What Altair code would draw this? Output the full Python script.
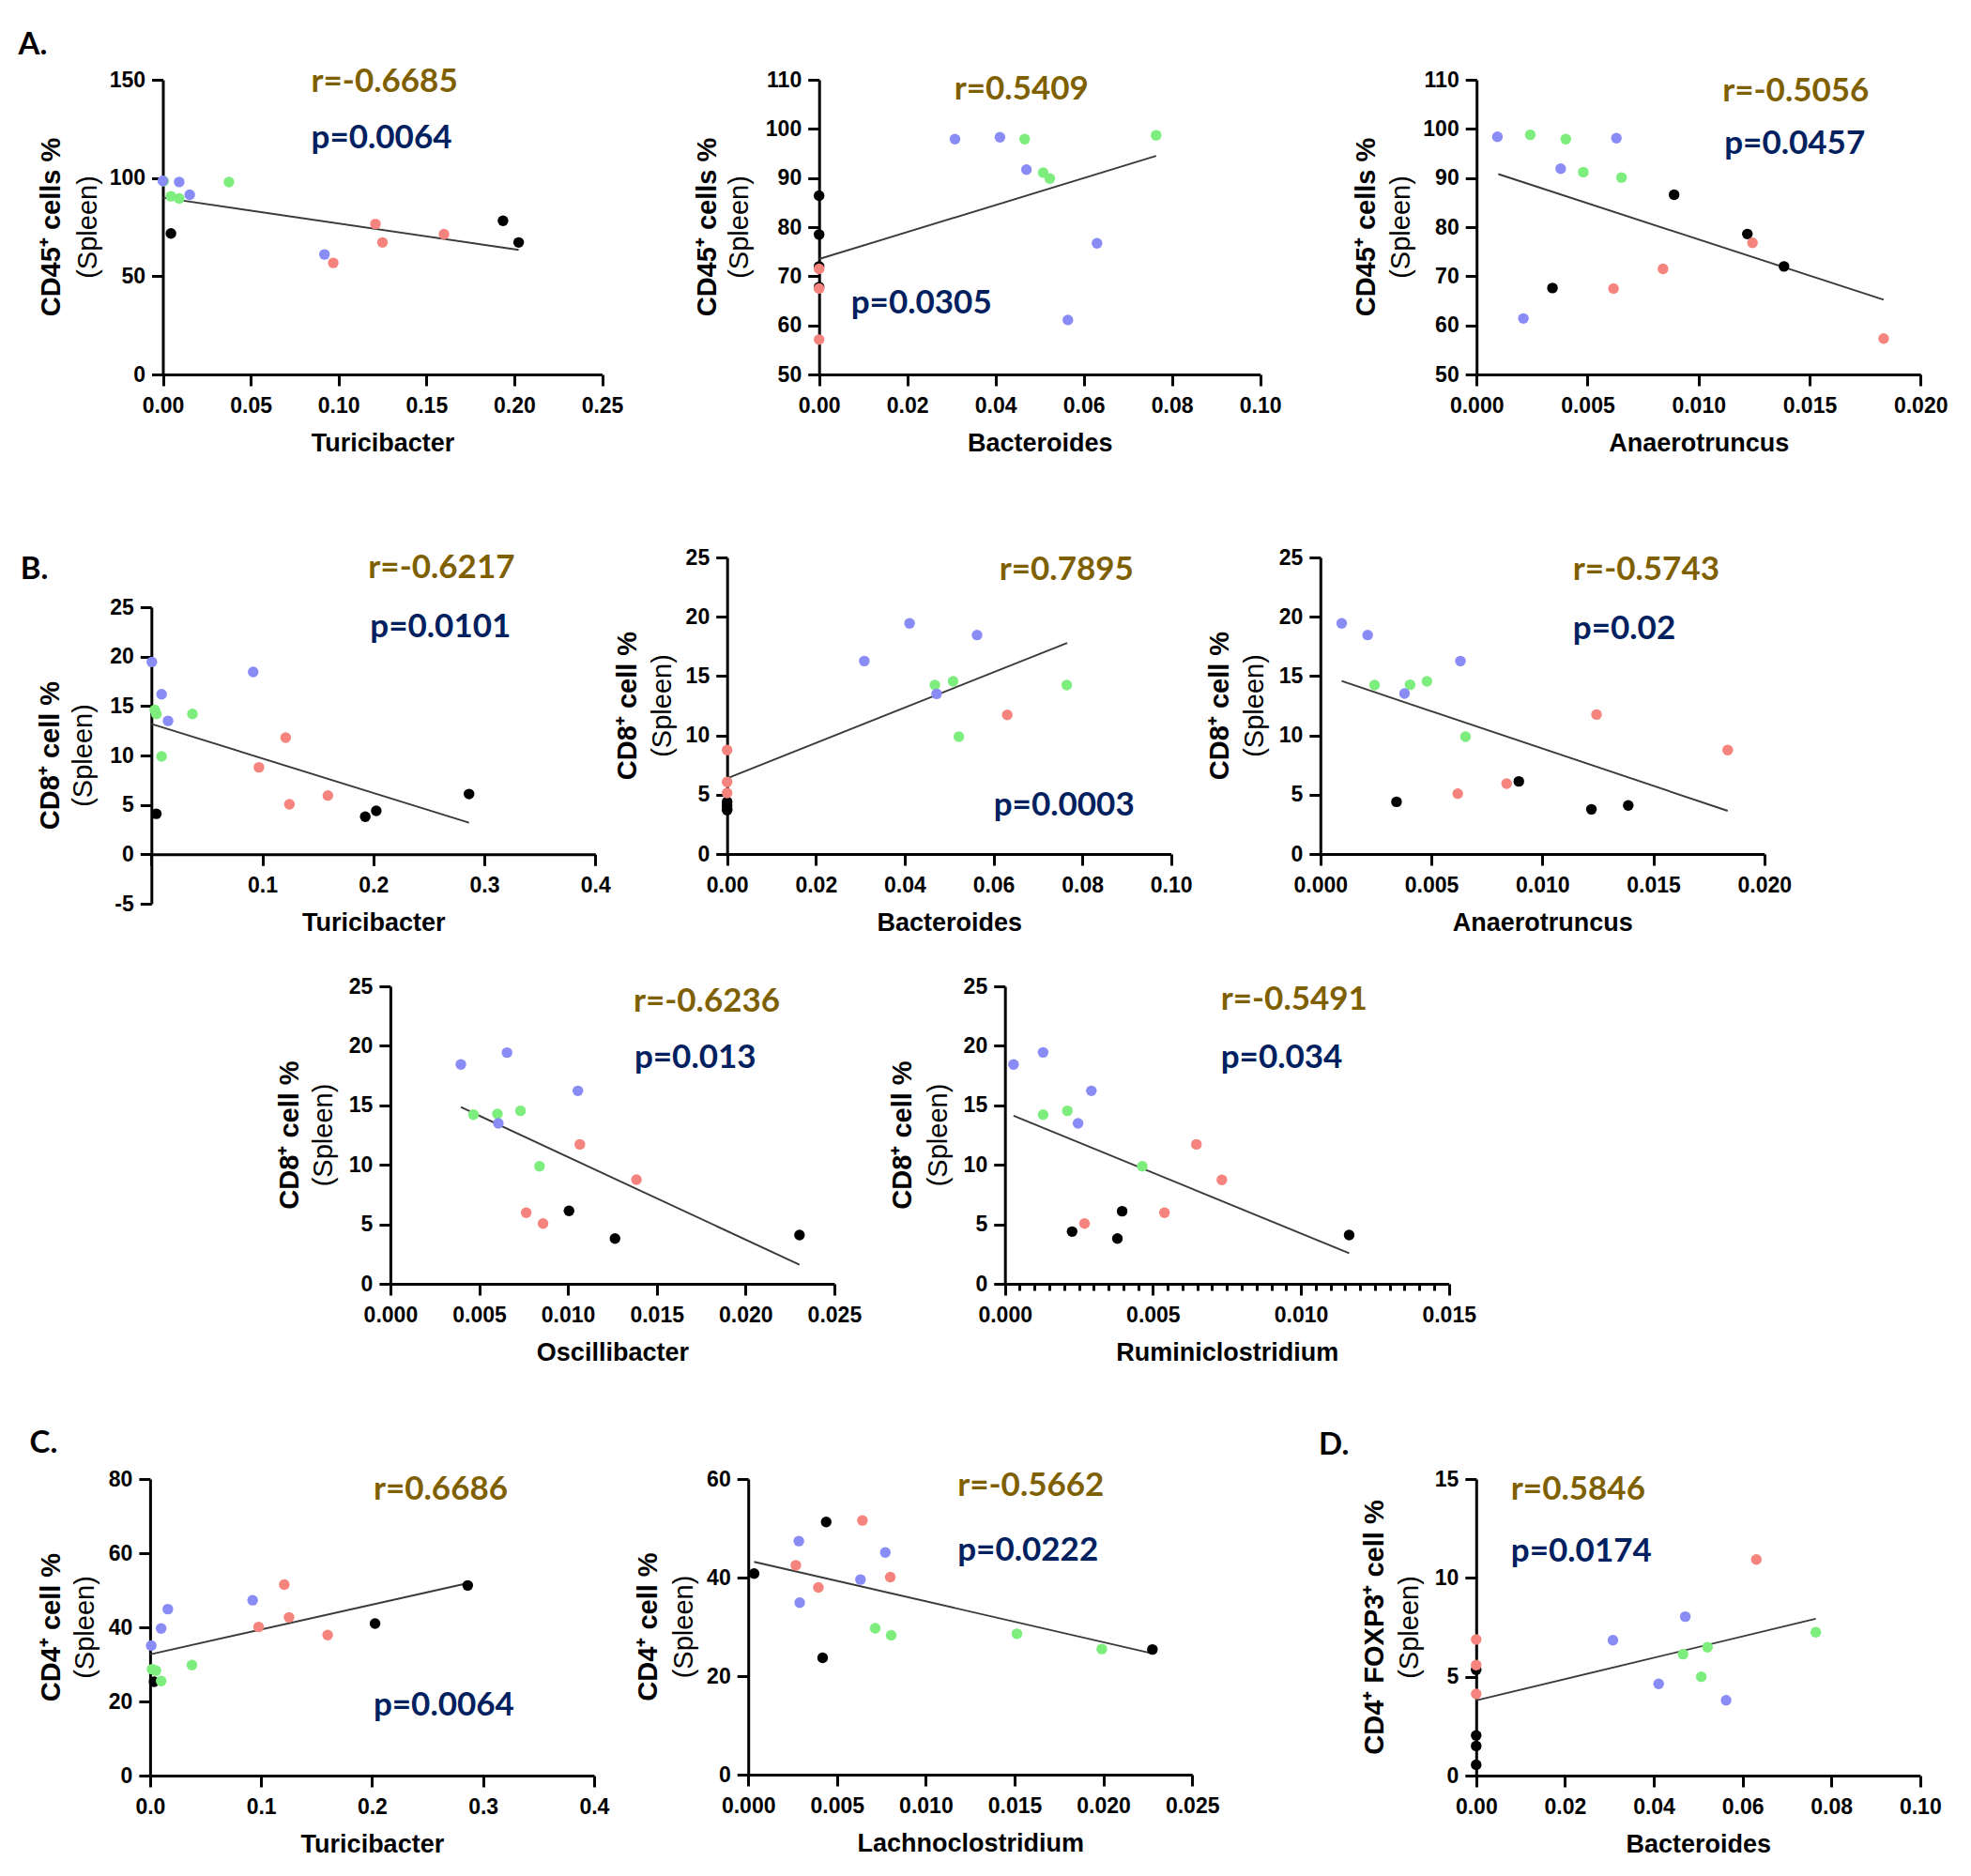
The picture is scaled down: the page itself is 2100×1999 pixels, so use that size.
import altair as alt
import pandas as pd

# ---------------- groups / colours ----------------
GROUP_DOMAIN = ["black", "red", "green", "blue"]
GROUP_COLORS = ["#000000", "#F6847E", "#7DEE7D", "#8A8CF6"]
R_COLOR = "#7F6000"
P_COLOR = "#002060"
LINE_COLOR = "#3a3a3a"

# ---------------- data ----------------
# A1: CD45+ vs Turicibacter
A1_x = [0.0046, 0.1936, 0.2025, 0.097, 0.121, 0.125, 0.160, 0.0005, 0.0046, 0.0093, 0.0376, 0.0, 0.0093, 0.0153, 0.092]
A1_y = [71.8, 78.2, 67.2, 56.8, 76.6, 67.2, 71.4, 98.4, 90.7, 89.6, 97.9, 98.5, 98.0, 91.5, 61.1]
A1_g = ["black"] * 3 + ["red"] * 4 + ["green"] * 4 + ["blue"] * 4
A1_lx = [0.0, 0.2025]
A1_ly = [90.0, 63.4]

# A2: CD45+ vs Bacteroides
A2_x = [0, 0, 0, 0, 0, 0, 0, 0.0466, 0.0508, 0.0523, 0.0764, 0.0308, 0.041, 0.047, 0.0564, 0.063]
A2_y = [86.4, 78.5, 72.0, 67.8, 71.5, 67.5, 57.1, 97.9, 91.1, 89.9, 98.7, 97.9, 98.3, 91.7, 61.1, 76.7]
A2_g = ["black"] * 4 + ["red"] * 3 + ["green"] * 4 + ["blue"] * 5
A2_lx = [0.0, 0.0764]
A2_ly = [73.5, 94.5]

# A3: CD45+ vs Anaerotruncus
A3_x = [0.0089, 0.0122, 0.01385, 0.00342, 0.01243, 0.0084, 0.00617, 0.01834, 0.00242, 0.00402, 0.00481, 0.00653, 0.00094, 0.0063, 0.00379, 0.00211]
A3_y = [86.6, 78.6, 72.0, 67.6, 76.8, 71.5, 67.5, 57.3, 98.8, 97.9, 91.2, 90.1, 98.4, 98.1, 91.9, 61.4]
A3_g = ["black"] * 4 + ["red"] * 4 + ["green"] * 4 + ["blue"] * 4
A3_lx = [0.00098, 0.01834]
A3_ly = [90.8, 65.2]

# B1: CD8+ vs Turicibacter
B1_x = [0.0044, 0.1927, 0.2026, 0.2862, 0.121, 0.0969, 0.159, 0.1244, 0.0030, 0.0045, 0.037, 0.0092, 0.0004, 0.0917, 0.0092, 0.015]
B1_y = [4.1, 3.8, 4.4, 6.1, 11.8, 8.8, 5.95, 5.06, 14.6, 14.2, 14.2, 9.9, 19.46, 18.45, 16.2, 13.5]
B1_g = ["black"] * 4 + ["red"] * 4 + ["green"] * 4 + ["blue"] * 4
B1_lx = [0.0, 0.2862]
B1_ly = [13.2, 3.2]

# B2: CD8+ vs Bacteroides
B2_x = [0, 0, 0, 0, 0, 0, 0, 0.0631, 0.0468, 0.0509, 0.0765, 0.0522, 0.0309, 0.0411, 0.0563, 0.0472]
B2_y = [4.4, 4.1, 3.8, 3.7, 8.76, 6.07, 5.14, 11.73, 14.24, 14.56, 14.24, 9.89, 16.27, 19.44, 18.46, 13.5]
B2_g = ["black"] * 4 + ["red"] * 4 + ["green"] * 4 + ["blue"] * 4
B2_lx = [0.0, 0.0766]
B2_ly = [6.38, 17.8]

# B3: CD8+ vs Anaerotruncus
B3_x = [0.00894, 0.00343, 0.01221, 0.01387, 0.01244, 0.01835, 0.00839, 0.00619, 0.00244, 0.00404, 0.0048, 0.00654, 0.00096, 0.00213, 0.00631, 0.00379]
B3_y = [6.12, 4.40, 3.77, 4.09, 11.76, 8.76, 5.93, 5.09, 14.24, 14.27, 14.56, 9.89, 19.44, 18.46, 16.27, 13.53]
B3_g = ["black"] * 4 + ["red"] * 4 + ["green"] * 4 + ["blue"] * 4
B3_lx = [0.00096, 0.01835]
B3_ly = [14.58, 3.64]

# B4: CD8+ vs Oscillibacter
B4_x = [0.01006, 0.01265, 0.02304, 0.01067, 0.01386, 0.00765, 0.0086, 0.00468, 0.00603, 0.00733, 0.0084, 0.00397, 0.00657, 0.01056, 0.00608]
B4_y = [6.13, 3.81, 4.10, 11.72, 8.75, 5.97, 5.07, 14.22, 14.27, 14.54, 9.88, 18.43, 19.43, 16.22, 13.49]
B4_g = ["black"] * 3 + ["red"] * 4 + ["green"] * 4 + ["blue"] * 4
B4_lx = [0.00397, 0.02304]
B4_ly = [14.85, 1.60]

# B5: CD8+ vs Ruminiclostridium
B5_x = [0.00227, 0.00396, 0.0038, 0.01163, 0.00647, 0.00733, 0.00539, 0.00269, 0.00129, 0.00211, 0.00464, 0.00029, 0.00129, 0.00292, 0.00247]
B5_y = [4.39, 6.10, 3.81, 4.10, 11.72, 8.73, 5.97, 5.07, 14.22, 14.54, 9.88, 18.43, 19.45, 16.22, 13.49]
B5_g = ["black"] * 4 + ["red"] * 4 + ["green"] * 3 + ["blue"] * 4
B5_lx = [0.00029, 0.01163]
B5_ly = [14.12, 2.58]

# C1: CD4+ vs Turicibacter
C1_x = [0.0036, 0.2027, 0.2862, 0.1209, 0.0978, 0.1252, 0.16, 0.0018, 0.0053, 0.00996, 0.0377, 0.001, 0.00996, 0.016, 0.0924]
C1_y = [25.3, 41.0, 51.3, 51.5, 40.1, 42.7, 37.9, 28.7, 28.3, 25.5, 29.8, 35.05, 39.7, 44.9, 47.3]
C1_g = ["black"] * 3 + ["red"] * 4 + ["green"] * 4 + ["blue"] * 4
C1_lx = [0.0, 0.2862]
C1_ly = [32.7, 51.9]

# C2: CD4+ vs Lachnoclostridium
C2_x = [0.00033, 0.00439, 0.00419, 0.02276, 0.00643, 0.00268, 0.00395, 0.0080, 0.00715, 0.00805, 0.01513, 0.01991, 0.00285, 0.00772, 0.00632, 0.0029]
C2_y = [40.8, 51.3, 23.7, 25.4, 51.6, 42.5, 38.0, 40.1, 29.7, 28.3, 28.6, 25.5, 47.4, 45.1, 39.6, 34.9]
C2_g = ["black"] * 4 + ["red"] * 4 + ["green"] * 4 + ["blue"] * 4
C2_lx = [0.00033, 0.02276]
C2_ly = [43.2, 24.6]

# D: CD4+FOXP3+ vs Bacteroides
D_x = [0, 0, 0, 0, 0, 0, 0, 0.0631, 0.0466, 0.0521, 0.0507, 0.0765, 0.0471, 0.0308, 0.0411, 0.0563]
D_y = [5.35, 2.03, 1.5, 0.55, 6.88, 5.59, 4.13, 10.93, 6.14, 6.49, 5.0, 7.25, 8.04, 6.85, 4.64, 3.81]
D_g = ["black"] * 4 + ["red"] * 4 + ["green"] * 4 + ["blue"] * 4
D_lx = [0.0, 0.0765]
D_ly = [3.80, 7.93]

# ---------------- tick values ----------------
TICKS_TURI_A = [0.0, 0.05, 0.1, 0.15, 0.2, 0.25]
TICKS_TURI = [0.0, 0.1, 0.2, 0.3, 0.4]
TICKS_BACT = [0.0, 0.02, 0.04, 0.06, 0.08, 0.1]
TICKS_ANAE = [0.0, 0.005, 0.01, 0.015, 0.02]
TICKS_OSC = [0.0, 0.005, 0.01, 0.015, 0.02, 0.025]
TICKS_RUM = [0.0, 0.0005, 0.001, 0.0015, 0.002, 0.0025, 0.003, 0.0035, 0.004, 0.0045,
             0.005, 0.0055, 0.006, 0.0065, 0.007, 0.0075, 0.008, 0.0085, 0.009, 0.0095,
             0.01, 0.0105, 0.011, 0.0115, 0.012, 0.0125, 0.013, 0.0135, 0.014, 0.0145, 0.015]
Y_CD45_A1 = [0, 50, 100, 150]
Y_CD45 = [50, 60, 70, 80, 90, 100, 110]
Y_CD8_B1 = [-5, 0, 5, 10, 15, 20, 25]
Y_CD8 = [0, 5, 10, 15, 20, 25]
Y_CD4_C1 = [0, 20, 40, 60, 80]
Y_CD4_C2 = [0, 20, 40, 60]
Y_FOXP3 = [0, 5, 10, 15]

LABEL_FONT = "Liberation Sans"
ANNOT_FONT = "Lato"
ONE = pd.DataFrame({"k": [0]})

# grid of cells: column widths and row heights (pixels)
COL_W = [610, 630, 685]
ROW_H = [509, 457, 525, 316]


def txt(text, px, py, size, color, font, weight="bold", align="left", baseline="middle", angle=None):
    kw = dict(text=text, fontSize=size, color=color, font=font, fontWeight=weight,
              align=align, baseline=baseline)
    if angle is not None:
        kw["angle"] = angle
    return alt.Chart(ONE).mark_text(**kw).encode(x=alt.value(px), y=alt.value(py))


def panel(x, y, g, lx, ly, col, row, a, w, h, xdom, xticks, xfmt, xtitle, ydom, yticks, ytitle,
          r_txt, r_pos, p_txt, p_pos, yt_off, letter=None, yrange=None, ybottom=None,
          hide_zero=False, minor=False, ycenter=None, b=0):
    W, H = COL_W[col], ROW_H[row]
    xs = alt.Scale(domain=xdom, nice=False, zero=False, range=[a, a + w])
    yr = yrange if yrange is not None else [b + h, b]
    ys = alt.Scale(domain=ydom, nice=False, zero=False, range=yr)
    xaxis_y = ybottom if ybottom is not None else b + h

    expr = f"format(datum.value, '{xfmt}')"
    if hide_zero:
        expr = f"datum.value == 0 ? '' : {expr}"
    axkw = dict(values=xticks, title=xtitle, offset=xaxis_y - H)
    if minor:
        major = "round(datum.value*10000) % 50 == 0"
        expr = f"{major} ? {expr} : ''"
        axkw["tickSize"] = {"condition": {"test": major, "value": 12}, "value": 7}
    else:
        axkw["tickSize"] = 12
    xa = alt.Axis(labelExpr=expr, **axkw)
    ya = alt.Axis(values=yticks, title=None, tickSize=12, offset=-a, labelExpr="'' + datum.value")

    df = pd.DataFrame({"x": x, "y": y, "g": g})
    ldf = pd.DataFrame({"x": lx, "y": ly})
    line = alt.Chart(ldf).mark_line(color=LINE_COLOR, strokeWidth=1.9).encode(
        x=alt.X("x:Q", scale=xs, axis=xa), y=alt.Y("y:Q", scale=ys, axis=ya))
    pts = alt.Chart(df).mark_circle(size=130, opacity=1).encode(
        x=alt.X("x:Q", scale=xs, axis=xa), y=alt.Y("y:Q", scale=ys, axis=ya),
        color=alt.Color("g:N", scale=alt.Scale(domain=GROUP_DOMAIN, range=GROUP_COLORS), legend=None))
    yc = ycenter if ycenter is not None else b + h / 2
    layers = [line, pts,
              txt(r_txt, a + r_pos[0], b + r_pos[1], 35, R_COLOR, ANNOT_FONT),
              txt(p_txt, a + p_pos[0], b + p_pos[1], 35, P_COLOR, ANNOT_FONT),
              txt(ytitle, a + yt_off[0], yc, 29, "black", LABEL_FONT, "bold", "center", "middle", 270),
              txt("(Spleen)", a + yt_off[1], yc, 29, "black", LABEL_FONT, "normal", "center", "middle", 270)]
    if letter is not None:
        layers.append(txt(letter[0], letter[1], letter[2], 33, "black", ANNOT_FONT, "bold", "left", "alphabetic"))
    return alt.layer(*layers).properties(width=W, height=H)


def spacer(col, row):
    return alt.Chart(ONE).mark_point(opacity=0).encode(
        x=alt.value(0), y=alt.value(0)).properties(width=COL_W[col], height=ROW_H[row])


CD45 = "CD45\u207a cells %"
CD8 = "CD8\u207a cell %"
CD4 = "CD4\u207a cell %"
FOXP3 = "CD4\u207a FOXP3\u207a cell %"

pA1 = panel(A1_x, A1_y, A1_g, A1_lx, A1_ly, 0, 0, 23.5, 468, 314, [0, 0.25], TICKS_TURI_A, ".2f", "Turicibacter",
            [0, 150], Y_CD45_A1, CD45, "r=-0.6685", (158, 2), "p=0.0064", (158, 62), (-119, -80),
            letter=("A.", -130.5, -27))
pA2 = panel(A2_x, A2_y, A2_g, A2_lx, A2_ly, 1, 0, 112.7, 470, 314, [0, 0.1], TICKS_BACT, ".2f", "Bacteroides",
            [50, 110], Y_CD45, CD45, "r=0.5409", (144, 10), "p=0.0305", (34, 238), (-119, -85))
pA3 = panel(A3_x, A3_y, A3_g, A3_lx, A3_ly, 2, 0, 183.2, 473, 314, [0, 0.02], TICKS_ANAE, ".3f", "Anaerotruncus",
            [50, 110], Y_CD45, CD45, "r=-0.5056", (262, 12), "p=0.0457", (264, 68), (-117, -80))

pB1 = panel(B1_x, B1_y, B1_g, B1_lx, B1_ly, 0, 1, 11.3, 473, 316, [0, 0.4], TICKS_TURI, ".1f", "Turicibacter",
            [-5, 25], Y_CD8_B1, CD8, "r=-0.6217", (231, 11), "p=0.0101", (233, 74), (-107, -72),
            letter=("B.", -128.3, 23), yrange=[369, 53], ybottom=316.3, hide_zero=True, ycenter=211)
pB2 = panel(B2_x, B2_y, B2_g, B2_lx, B2_ly, 1, 1, 14.7, 473, 316, [0, 0.1], TICKS_BACT, ".2f", "Bacteroides",
            [0, 25], Y_CD8, CD8, "r=0.7895", (290, 13), "p=0.0003", (284, 264), (-106, -69))
pB3 = panel(B3_x, B3_y, B3_g, B3_lx, B3_ly, 2, 1, 16.8, 473, 316, [0, 0.02], TICKS_ANAE, ".3f", "Anaerotruncus",
            [0, 25], Y_CD8, CD8, "r=-0.5743", (269, 13), "p=0.02", (269, 76), (-107, -70))

pB4 = panel(B4_x, B4_y, B4_g, B4_lx, B4_ly, 0, 2, 265.9, 473, 317, [0, 0.025], TICKS_OSC, ".3f", "Oscillibacter",
            [0, 25], Y_CD8, CD8, "r=-0.6236", (259, 16), "p=0.013", (260, 76), (-107, -71))
pB5 = panel(B5_x, B5_y, B5_g, B5_lx, B5_ly, 1, 2, 310.7, 473, 317, [0, 0.015], TICKS_RUM, ".3f", "Ruminiclostridium",
            [0, 25], Y_CD8, CD8, "r=-0.5491", (230, 14), "p=0.034", (230, 76), (-109, -71), minor=True)

pC1 = panel(C1_x, C1_y, C1_g, C1_lx, C1_ly, 0, 3, 9.9, 473, 316, [0, 0.4], TICKS_TURI, ".1f", "Turicibacter",
            [0, 80], Y_CD4_C1, CD4, "r=0.6686", (238, 11), "p=0.0064", (238, 241), (-105, -69),
            letter=("C.", -118.4, -28))
pC2 = panel(C2_x, C2_y, C2_g, C2_lx, C2_ly, 1, 3, 37.2, 473, 315, [0, 0.025], TICKS_OSC, ".3f", "Lachnoclostridium",
            [0, 60], Y_CD4_C2, CD4, "r=-0.5662", (223, 7), "p=0.0222", (223, 76), (-106, -68))
pD = panel(D_x, D_y, D_g, D_lx, D_ly, 2, 3, 182.8, 473, 316, [0, 0.1], TICKS_BACT, ".2f", "Bacteroides",
           [0, 15], Y_FOXP3, FOXP3, "r=0.5846", (37, 11), "p=0.0174", (37, 77), (-108, -71),
           letter=("D.", 15, -26))

views = [pA1, pA2, pA3,
         pB1, pB2, pB3,
         pB4, pB5, spacer(2, 2),
         pC1, pC2, pD]

chart = alt.concat(*views, columns=3, spacing=0, bounds="flush",
                   align={"row": "each", "column": "each"}).properties(
    autosize=alt.AutoSizeParams(type="none"),
    padding={"left": 142, "top": 77, "right": 1938, "bottom": 1898},
    background="white",
).configure_view(strokeWidth=0).configure_axis(
    domainColor="black", domainWidth=3, tickColor="black", tickWidth=3, grid=False,
    labelFont=LABEL_FONT, labelFontSize=23, labelFontWeight="bold", labelColor="black",
    titleFont=LABEL_FONT, titleFontSize=27, titleFontWeight="bold", titleColor="black",
    labelFlush=False, labelOverlap=False, labelBound=False,
).configure_axisX(labelPadding=10, titlePadding=15).configure_axisY(labelPadding=7)

chart.save("out.html", embed_options={"renderer": "svg", "actions": False})
